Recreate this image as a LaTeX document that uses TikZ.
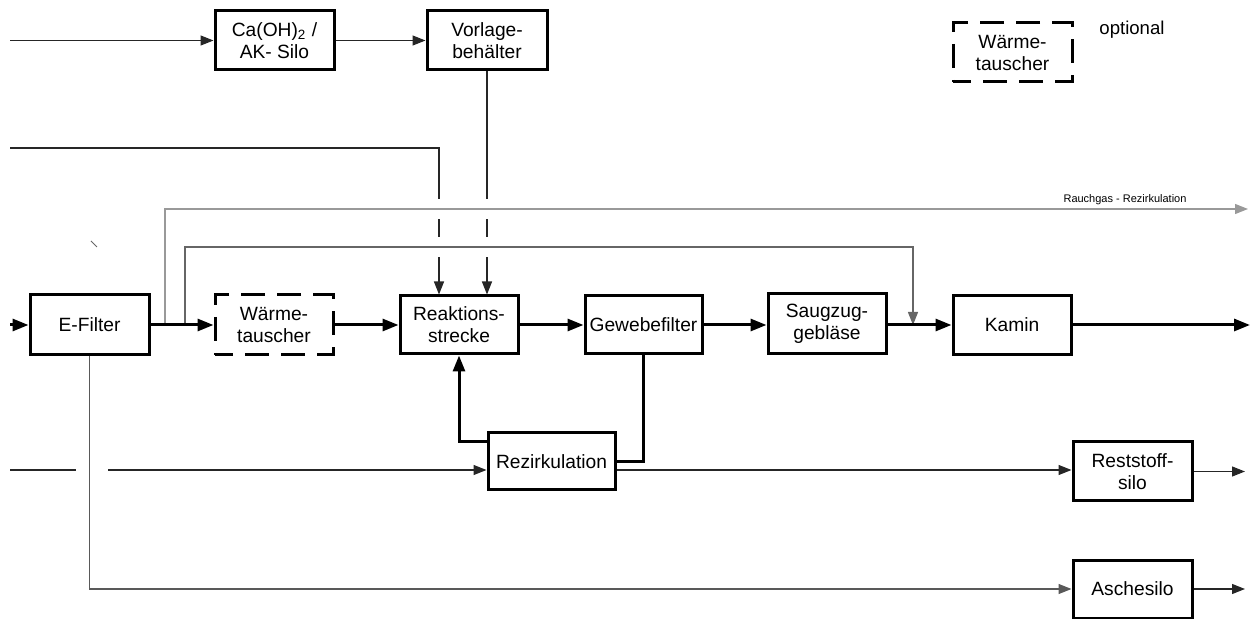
\documentclass[tikz,border=0pt]{standalone}
\usepackage{fontspec}
\setmainfont{Liberation Sans}
\usetikzlibrary{arrows.meta,calc}
\begin{document}
\begin{tikzpicture}[x=0.5pt,y=-0.5pt,
  box/.style={draw, line width=1.5pt, inner sep=0pt, align=center, font=\fontsize{9.6}{11}\selectfont},
  dbox/.style={box, dash pattern=on 12pt off 6pt, dash phase=3pt},
  tline/.style={line width=0.6pt, draw=black!85, -{Triangle[length=6.5pt,width=5pt]}},
  mline/.style={line width=1.5pt, -{Triangle[length=8pt,width=6pt]}},
  thickline/.style={line width=1.5pt},
  plainline/.style={line width=0.6pt, draw=black!85}]
\useasboundingbox (0,0) rectangle (1252,619);

% nodes
\node[box, minimum width=59.5pt, minimum height=29.5pt] (ca) at (274.5,40.5) {Ca(OH)\textsubscript{2} /\\AK- Silo};
\node[box, minimum width=60pt, minimum height=29.5pt] (vb) at (487,40.5) {Vorlage-\\behälter};
\node[dbox, minimum width=59.5pt, minimum height=29.5pt] (lw) at (1012.5,52.5) {Wärme-\\tauscher};
\node[anchor=west, inner sep=0pt, font=\fontsize{9.3}{11}\selectfont] (opt) at (1099,30) {optional};
\node[box, minimum width=59.5pt, minimum height=30pt] (ef) at (89.5,325) {E-Filter};
\node[dbox, minimum width=59pt, minimum height=30pt] (wt) at (274,325) {Wärme-\\tauscher};
\node[box, minimum width=59pt, minimum height=29pt] (rs) at (459,325) {Reaktions-\\strecke};
\node[box, minimum width=58.5pt, minimum height=29pt] (gf) at (643.5,325) {Gewebefilter};
\node[box, minimum width=59pt, minimum height=30pt] (sg) at (827,323.5) {Saugzug-\\gebläse};
\node[box, minimum width=59pt, minimum height=29.5pt] (km) at (1012,325) {Kamin};
\node[box, minimum width=63.5pt, minimum height=28.5pt] (rz) at (551.5,461.5) {Rezirkulation};
\node[box, minimum width=59.5pt, minimum height=29.5pt] (rst) at (1132.5,471.5) {Reststoff-\\silo};
\node[box, minimum width=59.5pt, minimum height=29pt] (as) at (1132.5,589) {Aschesilo};
\node[font=\fontsize{5.5}{6}\selectfont, inner sep=0pt] (rl) at (1125,200) {Rauchgas - Rezirkulation};

% free ends
\coordinate (inCa) at (10,40.5);
\coordinate (inAK) at (10,148);
\coordinate (inMain) at (10,325);
\coordinate (outMain) at (1250,325);
\coordinate (t1) at (165,325);
\coordinate (t2) at (185,325);
\coordinate (t3) at (913,325);
\coordinate (rg) at (1248,209);
\coordinate (r1) at (10,470);
\coordinate (r2) at (76,470);
\coordinate (r3) at (108,470);
\coordinate (o1) at (1245,471.5);
\coordinate (o2) at (1245,589);
\coordinate (rsA) at ($(rs.north)+(-20,0)$);
\coordinate (rsB) at ($(rs.north)+(28,0)$);

% top feeds
\draw[tline] (inCa) -- (ca.west);
\draw[tline] (ca.east) -- (vb.west);
\draw[tline] (vb.south) -- (rsB);
\draw[tline] (inAK) -| (rsA);
\foreach \xx in {439,487} \foreach \yy in {209,247}
  \draw[white, line width=3pt] (\xx,\yy-10) -- (\xx,\yy+10);

% recirculation lines
\draw[tline, draw=black!40] (t1) |- (rg);
\draw[tline, draw=black!60] (t2) -- ++(0,-78) -| (t3);

% main gas path
\draw[mline] (inMain) -- (ef.west);
\draw[mline] (ef.east) -- (wt.west);
\draw[mline] (wt.east) -- (rs.west);
\draw[mline] (rs.east) -- (gf.west);
\draw[mline] (gf.east) -- (gf.east -| sg.west);
\draw[mline] (sg.east |- km.west) -- (km.west);
\draw[mline] (km.east) -- (outMain);

% recirculation loop
\draw[mline] ($(rz.north west)+(0,10)$) -| (rs.south);
\draw[thickline] (gf.south) |- (rz.east);

% residue line
\draw[plainline] (r1) -- (r2);
\draw[tline] (r3) -- (r3 -| rz.west);
\draw[tline] (rz.east |- r3) -- (r3 -| rst.west);
\draw[tline] (rst.east) -- (o1);

% ash line
\draw[tline, draw=black!65] (ef.south) |- (as.west);
\draw[tline] (as.east) -- (o2);

% stray tick
\draw[line width=0.5pt, black!60] (91,241) -- (97,247);
\end{tikzpicture}
\end{document}
